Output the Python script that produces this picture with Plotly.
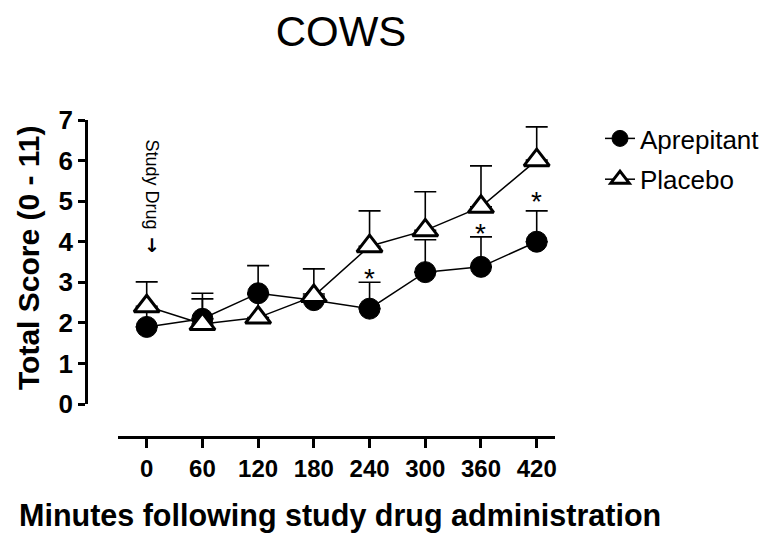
import plotly.graph_objects as go

minutes = [0, 60, 120, 180, 240, 300, 360, 420]
tick_labels = ["0", "60", "120", "180", "240", "300", "360", "420"]

aprepitant_mean = [1.90, 2.10, 2.73, 2.56, 2.35, 3.25, 3.38, 4.00]
aprepitant_sem = [0.47, 0.49, 0.68, 0.15, 0.65, 0.80, 0.74, 0.76]

placebo_mean = [2.41, 1.97, 2.13, 2.66, 3.89, 4.28, 4.86, 6.01]
placebo_sem = [0.60, 0.76, 0.57, 0.67, 0.87, 0.95, 1.01, 0.82]

significant_idx = [4, 6, 7]
star_shift = [-14, -14, -8]

FONT = "Liberation Sans, Arial, sans-serif"

# page body has an 8px margin; the figure is sized so it ends at the window edge
OFF = 8
W, H = 773 - OFF, 533 - OFF
L, T = 86 - OFF, 120 - OFF
R = W - (555 - OFF)
B = H - (437 - OFF)
PW = W - L - R
PH = H - T - B


def fx(px):  # reference window pixel -> paper x
    return (px - OFF - L) / PW


def fy(py):  # reference window pixel -> paper y
    return (H - B - (py - OFF)) / PH


fig = go.Figure()

fig.add_trace(go.Scatter(
    x=minutes, y=aprepitant_mean, name="Aprepitant",
    mode="lines+markers", legendgroup="a",
    line=dict(color="black", width=1.5),
    marker=dict(symbol="circle", size=21, color="black", line=dict(color="black", width=1)),
    error_y=dict(type="data", array=aprepitant_sem, arrayminus=[0] * len(minutes),
                 symmetric=False, color="black", thickness=1.6, width=11),
    cliponaxis=False,
))

fig.add_trace(go.Scatter(
    x=minutes, y=placebo_mean, name="Placebo",
    mode="lines+markers", legendgroup="p",
    line=dict(color="black", width=1.5),
    marker=dict(symbol="triangle-up", size=22, color="white", line=dict(color="black", width=3)),
    error_y=dict(type="data", array=placebo_sem, arrayminus=[0] * len(minutes),
                 symmetric=False, color="black", thickness=1.6, width=11),
    cliponaxis=False,
))

annotations = []
for i, ys in zip(significant_idx, star_shift):
    annotations.append(dict(
        x=minutes[i], y=aprepitant_mean[i] + aprepitant_sem[i],
        xref="x", yref="y", text="*", showarrow=False,
        yanchor="bottom", xanchor="center", yshift=ys,
        font=dict(family=FONT, size=28, color="black"),
    ))

annotations.append(dict(
    x=fx(151.5), y=fy(231), xref="paper", yref="paper",
    text="Study Drug", textangle=90, showarrow=False,
    xanchor="center", yanchor="bottom",
    font=dict(family=FONT, size=18, color="black"),
))
annotations.append(dict(
    x=fx(151.5), y=fy(245), xref="paper", yref="paper",
    text="<b>↓</b>", showarrow=False,
    xanchor="center", yanchor="middle",
    font=dict(family="DejaVu Sans", size=19, color="black"),
))

annotations.append(dict(
    x=fx(28), y=fy(258), xref="paper", yref="paper",
    text="Total Score (0 - 11)", textangle=-90, showarrow=False,
    xanchor="center", yanchor="middle",
    font=dict(family=FONT, size=30, color="black", weight="bold"),
))

annotations.append(dict(
    x=fx(340), y=fy(515), xref="paper", yref="paper",
    text="Minutes following study drug administration", showarrow=False,
    xanchor="center", yanchor="middle",
    font=dict(family=FONT, size=30.5, color="black", weight="bold"),
))

px_per_min = (536.7 - 146.7) / 420.0
x0 = -(146.7 - 118) / px_per_min
x1 = (555 - 146.7) / px_per_min

fig.update_layout(
    width=W, height=H,
    margin=dict(l=L, r=R, t=T, b=B, autoexpand=False),
    paper_bgcolor="white", plot_bgcolor="white",
    title=dict(text="COWS", x=(341 - OFF) / W, y=1 - (31 - OFF) / H,
               xanchor="center", yanchor="middle",
               font=dict(family=FONT, size=42, color="black")),
    xaxis=dict(
        domain=[fx(118), 1], range=[x0, x1],
        anchor="free", position=0,
        showline=True, linewidth=3, linecolor="black",
        ticks="outside", ticklen=9, tickwidth=2.5, tickcolor="black",
        tickvals=minutes, ticktext=tick_labels,
        tickfont=dict(family=FONT, size=24, color="black", weight="bold"),
        showgrid=False, zeroline=False,
    ),
    yaxis=dict(
        domain=[fy(404), 1], range=[0, 7],
        anchor="free", position=0,
        showline=True, linewidth=2.5, linecolor="black",
        ticks="outside", ticklen=7, tickwidth=2.5, tickcolor="black",
        dtick=1, tick0=0,
        tickfont=dict(family=FONT, size=26, color="black", weight="bold"),
        showgrid=False, zeroline=False,
    ),
    legend=dict(
        x=fx(600), y=fy(115), xanchor="left", yanchor="top",
        font=dict(family=FONT, size=26, color="black"),
        bgcolor="rgba(0,0,0,0)", itemsizing="trace",
        tracegroupgap=4,
    ),
    annotations=annotations,
    showlegend=True,
)

fig.write_html("out.html")
